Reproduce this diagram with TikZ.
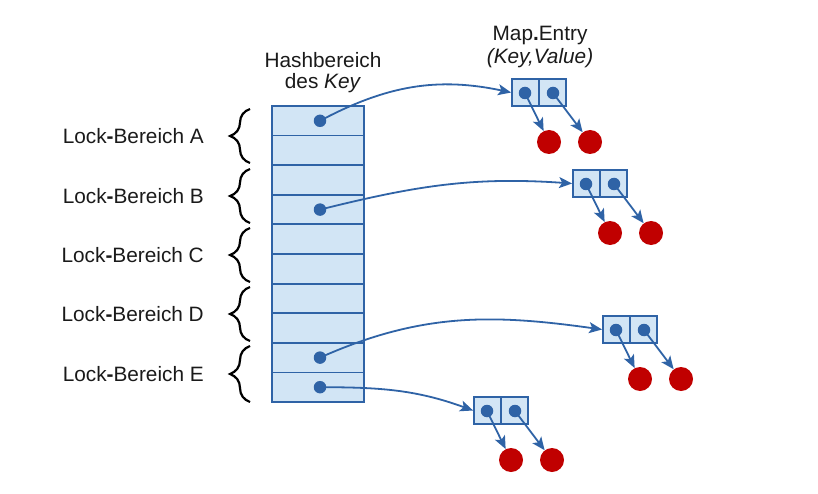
\documentclass[tikz,border=0pt]{standalone}
\usepackage{fontspec}
\setmainfont{Liberation Sans}
\usetikzlibrary{decorations.pathreplacing,arrows.meta}
\definecolor{lineblue}{HTML}{2F63A6}
\definecolor{cellfill}{HTML}{D2E5F5}
\definecolor{redball}{HTML}{C00000}
\definecolor{txt}{HTML}{1A1A1A}
\tikzset{
  tcell/.style={draw=lineblue, fill=cellfill, line width=1.8pt, minimum width=92pt, minimum height=29.6pt, inner sep=0pt},
  ecell/.style={draw=lineblue, fill=cellfill, line width=1.8pt, minimum width=27pt, minimum height=27pt, inner sep=0pt},
  bdot/.style={circle, fill=lineblue, minimum size=12.5pt, inner sep=0pt},
  rball/.style={circle, fill=redball, minimum size=24pt, inner sep=0pt},
  arr/.style={draw=lineblue, line width=1.8pt, -{Stealth[length=13pt,width=11pt,inset=3pt]}},
  lbl/.style={font=\fontsize{20.8}{24}\selectfont, text=txt, inner sep=0pt},
  brc/.style={decorate, decoration={brace, amplitude=20pt}, line width=2.2pt, draw=black},
}
\begin{document}
\begin{tikzpicture}[x=1pt,y=-1pt]
\useasboundingbox (0,0) rectangle (818,494);
% table
\foreach \i in {1,...,10}{
  \node[tcell] (r\i) at (318,{106+29.6*(\i-0.5)}) {};
}
\node[bdot] (d1) at ([xshift=2pt]r1.center) {};
\node[bdot] (d4) at ([xshift=2pt]r4.center) {};
\node[bdot] (d9) at ([xshift=2pt]r9.center) {};
\node[bdot] (d10) at ([xshift=2pt]r10.center) {};
% headers
\node[lbl] (h1) at (323,60) {Hashbereich};
\node[lbl] (h2) at (323,83) {des \textit{Key}};
\node[lbl] (m1) at (540,36) {Map{\bfseries .}Entry};
\node[lbl] (m2) at (540,58) {\textit{(Key,Value)}};
% braces and labels
\foreach \n/\a/\b in {A/109/163, B/169/223, C/228/282, D/287/341, E/346/402}{
  \coordinate (bb\n) at (250,\b);
  \coordinate (bt\n) at (250,\a);
  \draw[brc] (bb\n) -- (bt\n);
  \node[lbl, anchor=east] (L\n) at (204,{(\a+\b)/2}) {Lock{\bfseries -}Bereich \n};
}
% entries
\foreach \k/\x/\y in {1/512/79, 2/573/170, 3/603/316, 4/474/397}{
  \node[ecell] (e\k a) at ({\x+13.5},{\y+13.5}) {};
  \node[ecell] (e\k b) at ({\x+40.5},{\y+13.5}) {};
  \node[bdot] (e\k ad) at ({\x+13},{\y+14}) {};
  \node[bdot] (e\k bd) at ({\x+41},{\y+14}) {};
  \node[rball] (e\k ar) at ({\x+37},{\y+63}) {};
  \node[rball] (e\k br) at ({\x+78},{\y+63}) {};
  \draw[arr] (e\k ad.center) -- (e\k ar);
  \draw[arr] (e\k bd.center) -- (e\k br);
}
% curved connectors
\draw[arr] (d1.center) to[out=28, in=168] (e1a.west);
\draw[arr] (d4.center) to[out=14, in=176] (e2a.west);
\draw[arr] (d9.center) to[out=24, in=172] (e3a.west);
\draw[arr] (d10.center) to[out=0, in=160] (e4a.west);
\end{tikzpicture}
\end{document}
